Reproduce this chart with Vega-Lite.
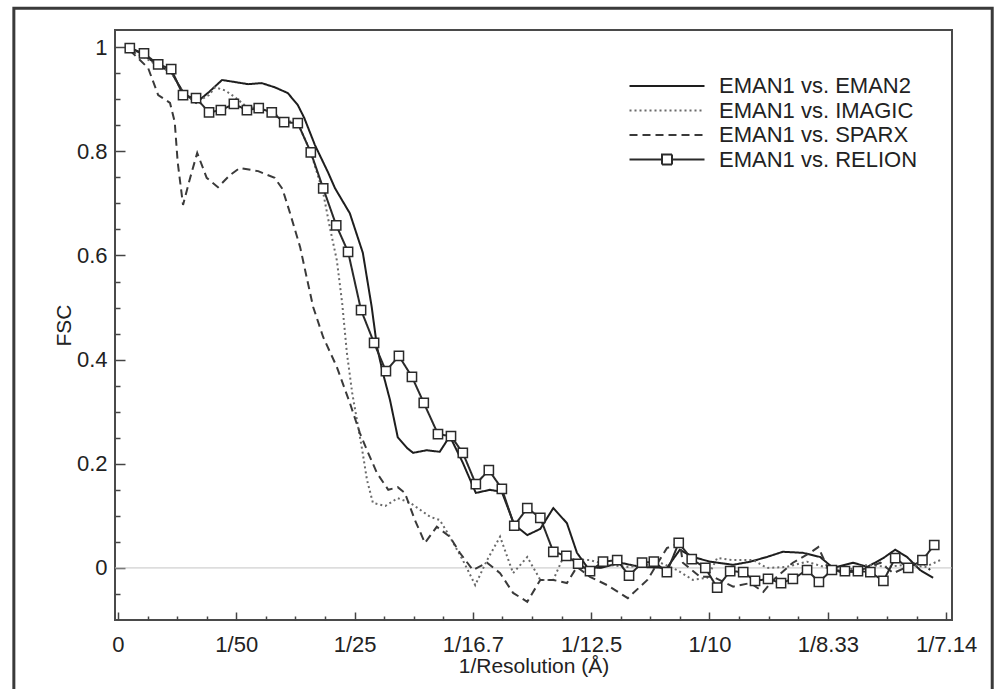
{
 "$schema": "https://vega.github.io/schema/vega-lite/v6.json",
 "width": 837,
 "height": 590,
 "autosize": {"type": "none"},
 "padding": {"left": 115, "top": 30, "right": 46, "bottom": 69},
 "background": "white",
 "config": {
  "view": {"stroke": "#4a4a4a", "strokeWidth": 2},
  "font": "Liberation Sans",
  "axis": {"grid": false, "domain": false, "tickColor": "#444", "tickWidth": 1.5, "labelFont": "Liberation Sans", "labelFontSize": 22, "labelColor": "#222", "titleFont": "Liberation Sans", "titleFontSize": 21, "titleFontWeight": "normal", "titleColor": "#222"},
  "legend": {"title": null, "orient": "none", "legendX": 541, "legendY": 45, "padding": 0, "symbolType": "M-7.5,0H7.5", "symbolSize": 100, "symbolStrokeWidth": 2, "labelFontSize": 22, "labelFont": "Liberation Sans", "labelColor": "#222", "labelOffset": 41, "labelLimit": 400, "rowPadding": 2.5}
 },
 "datasets": {
  "fsc": [
   {"s":"EMAN1 vs. EMAN2","x":0.002,"y":1.0},{"s":"EMAN1 vs. EMAN2","x":0.0044,"y":0.985},{"s":"EMAN1 vs. EMAN2","x":0.0068,"y":0.965},{"s":"EMAN1 vs. EMAN2","x":0.009,"y":0.952},{"s":"EMAN1 vs. EMAN2","x":0.011,"y":0.914},{"s":"EMAN1 vs. EMAN2","x":0.0132,"y":0.893},{"s":"EMAN1 vs. EMAN2","x":0.0154,"y":0.914},{"s":"EMAN1 vs. EMAN2","x":0.0176,"y":0.937},{"s":"EMAN1 vs. EMAN2","x":0.0198,"y":0.933},{"s":"EMAN1 vs. EMAN2","x":0.022,"y":0.929},{"s":"EMAN1 vs. EMAN2","x":0.0243,"y":0.931},{"s":"EMAN1 vs. EMAN2","x":0.0265,"y":0.923},{"s":"EMAN1 vs. EMAN2","x":0.0287,"y":0.912},{"s":"EMAN1 vs. EMAN2","x":0.0304,"y":0.889},{"s":"EMAN1 vs. EMAN2","x":0.0315,"y":0.864},{"s":"EMAN1 vs. EMAN2","x":0.0333,"y":0.812},{"s":"EMAN1 vs. EMAN2","x":0.0355,"y":0.76},{"s":"EMAN1 vs. EMAN2","x":0.0367,"y":0.729},{"s":"EMAN1 vs. EMAN2","x":0.0392,"y":0.681},{"s":"EMAN1 vs. EMAN2","x":0.0414,"y":0.605},{"s":"EMAN1 vs. EMAN2","x":0.0429,"y":0.501},{"s":"EMAN1 vs. EMAN2","x":0.0438,"y":0.424},{"s":"EMAN1 vs. EMAN2","x":0.0448,"y":0.374},{"s":"EMAN1 vs. EMAN2","x":0.046,"y":0.322},{"s":"EMAN1 vs. EMAN2","x":0.0473,"y":0.251},{"s":"EMAN1 vs. EMAN2","x":0.0489,"y":0.23},{"s":"EMAN1 vs. EMAN2","x":0.0499,"y":0.221},{"s":"EMAN1 vs. EMAN2","x":0.0522,"y":0.226},{"s":"EMAN1 vs. EMAN2","x":0.0544,"y":0.223},{"s":"EMAN1 vs. EMAN2","x":0.0561,"y":0.253},{"s":"EMAN1 vs. EMAN2","x":0.0583,"y":0.202},{"s":"EMAN1 vs. EMAN2","x":0.0605,"y":0.144},{"s":"EMAN1 vs. EMAN2","x":0.0629,"y":0.15},{"s":"EMAN1 vs. EMAN2","x":0.0649,"y":0.146},{"s":"EMAN1 vs. EMAN2","x":0.067,"y":0.083},{"s":"EMAN1 vs. EMAN2","x":0.0692,"y":0.063},{"s":"EMAN1 vs. EMAN2","x":0.0714,"y":0.075},{"s":"EMAN1 vs. EMAN2","x":0.0736,"y":0.115},{"s":"EMAN1 vs. EMAN2","x":0.0759,"y":0.086},{"s":"EMAN1 vs. EMAN2","x":0.0776,"y":0.029},{"s":"EMAN1 vs. EMAN2","x":0.0793,"y":0.002},{"s":"EMAN1 vs. EMAN2","x":0.0815,"y":0.0},{"s":"EMAN1 vs. EMAN2","x":0.0837,"y":0.006},{"s":"EMAN1 vs. EMAN2","x":0.0849,"y":0.01},{"s":"EMAN1 vs. EMAN2","x":0.0883,"y":0.002},{"s":"EMAN1 vs. EMAN2","x":0.0928,"y":0.0},{"s":"EMAN1 vs. EMAN2","x":0.095,"y":0.035},{"s":"EMAN1 vs. EMAN2","x":0.0972,"y":0.021},{"s":"EMAN1 vs. EMAN2","x":0.1001,"y":0.012},{"s":"EMAN1 vs. EMAN2","x":0.104,"y":0.006},{"s":"EMAN1 vs. EMAN2","x":0.1069,"y":0.012},{"s":"EMAN1 vs. EMAN2","x":0.1097,"y":0.021},{"s":"EMAN1 vs. EMAN2","x":0.1124,"y":0.031},{"s":"EMAN1 vs. EMAN2","x":0.1158,"y":0.029},{"s":"EMAN1 vs. EMAN2","x":0.1187,"y":0.021},{"s":"EMAN1 vs. EMAN2","x":0.1209,"y":0.0},{"s":"EMAN1 vs. EMAN2","x":0.1243,"y":0.01},{"s":"EMAN1 vs. EMAN2","x":0.1267,"y":0.002},{"s":"EMAN1 vs. EMAN2","x":0.1294,"y":0.019},{"s":"EMAN1 vs. EMAN2","x":0.1314,"y":0.035},{"s":"EMAN1 vs. EMAN2","x":0.1334,"y":0.021},{"s":"EMAN1 vs. EMAN2","x":0.1356,"y":-0.004},{"s":"EMAN1 vs. EMAN2","x":0.1378,"y":-0.019},
   {"s":"EMAN1 vs. IMAGIC","x":0.002,"y":0.994},{"s":"EMAN1 vs. IMAGIC","x":0.0044,"y":0.981},{"s":"EMAN1 vs. IMAGIC","x":0.0068,"y":0.964},{"s":"EMAN1 vs. IMAGIC","x":0.009,"y":0.952},{"s":"EMAN1 vs. IMAGIC","x":0.011,"y":0.912},{"s":"EMAN1 vs. IMAGIC","x":0.0132,"y":0.894},{"s":"EMAN1 vs. IMAGIC","x":0.0154,"y":0.908},{"s":"EMAN1 vs. IMAGIC","x":0.0164,"y":0.923},{"s":"EMAN1 vs. IMAGIC","x":0.0181,"y":0.917},{"s":"EMAN1 vs. IMAGIC","x":0.0198,"y":0.904},{"s":"EMAN1 vs. IMAGIC","x":0.0218,"y":0.885},{"s":"EMAN1 vs. IMAGIC","x":0.0238,"y":0.883},{"s":"EMAN1 vs. IMAGIC","x":0.026,"y":0.875},{"s":"EMAN1 vs. IMAGIC","x":0.0281,"y":0.86},{"s":"EMAN1 vs. IMAGIC","x":0.0304,"y":0.854},{"s":"EMAN1 vs. IMAGIC","x":0.0326,"y":0.798},{"s":"EMAN1 vs. IMAGIC","x":0.0347,"y":0.72},{"s":"EMAN1 vs. IMAGIC","x":0.0358,"y":0.655},{"s":"EMAN1 vs. IMAGIC","x":0.037,"y":0.591},{"s":"EMAN1 vs. IMAGIC","x":0.0379,"y":0.509},{"s":"EMAN1 vs. IMAGIC","x":0.0387,"y":0.413},{"s":"EMAN1 vs. IMAGIC","x":0.0396,"y":0.336},{"s":"EMAN1 vs. IMAGIC","x":0.0404,"y":0.284},{"s":"EMAN1 vs. IMAGIC","x":0.0413,"y":0.226},{"s":"EMAN1 vs. IMAGIC","x":0.0421,"y":0.169},{"s":"EMAN1 vs. IMAGIC","x":0.0431,"y":0.125},{"s":"EMAN1 vs. IMAGIC","x":0.0452,"y":0.119},{"s":"EMAN1 vs. IMAGIC","x":0.0473,"y":0.134},{"s":"EMAN1 vs. IMAGIC","x":0.0494,"y":0.125},{"s":"EMAN1 vs. IMAGIC","x":0.0528,"y":0.098},{"s":"EMAN1 vs. IMAGIC","x":0.0544,"y":0.092},{"s":"EMAN1 vs. IMAGIC","x":0.0561,"y":0.06},{"s":"EMAN1 vs. IMAGIC","x":0.0583,"y":0.015},{"s":"EMAN1 vs. IMAGIC","x":0.0604,"y":-0.033},{"s":"EMAN1 vs. IMAGIC","x":0.0624,"y":0.015},{"s":"EMAN1 vs. IMAGIC","x":0.0646,"y":0.06},{"s":"EMAN1 vs. IMAGIC","x":0.0668,"y":-0.01},{"s":"EMAN1 vs. IMAGIC","x":0.0692,"y":0.021},{"s":"EMAN1 vs. IMAGIC","x":0.0714,"y":-0.023},{"s":"EMAN1 vs. IMAGIC","x":0.0736,"y":-0.023},{"s":"EMAN1 vs. IMAGIC","x":0.0753,"y":0.021},{"s":"EMAN1 vs. IMAGIC","x":0.0776,"y":0.015},{"s":"EMAN1 vs. IMAGIC","x":0.0798,"y":0.015},{"s":"EMAN1 vs. IMAGIC","x":0.0827,"y":0.006},{"s":"EMAN1 vs. IMAGIC","x":0.0861,"y":0.002},{"s":"EMAN1 vs. IMAGIC","x":0.0895,"y":0.006},{"s":"EMAN1 vs. IMAGIC","x":0.0917,"y":0.01},{"s":"EMAN1 vs. IMAGIC","x":0.0945,"y":-0.004},{"s":"EMAN1 vs. IMAGIC","x":0.0972,"y":-0.023},{"s":"EMAN1 vs. IMAGIC","x":0.0996,"y":-0.019},{"s":"EMAN1 vs. IMAGIC","x":0.1013,"y":0.019},{"s":"EMAN1 vs. IMAGIC","x":0.104,"y":0.015},{"s":"EMAN1 vs. IMAGIC","x":0.1074,"y":0.015},{"s":"EMAN1 vs. IMAGIC","x":0.1097,"y":0.0},{"s":"EMAN1 vs. IMAGIC","x":0.1131,"y":0.002},{"s":"EMAN1 vs. IMAGIC","x":0.1165,"y":0.012},{"s":"EMAN1 vs. IMAGIC","x":0.1199,"y":0.0},{"s":"EMAN1 vs. IMAGIC","x":0.1233,"y":-0.004},{"s":"EMAN1 vs. IMAGIC","x":0.1267,"y":0.006},{"s":"EMAN1 vs. IMAGIC","x":0.13,"y":0.002},{"s":"EMAN1 vs. IMAGIC","x":0.1334,"y":0.006},{"s":"EMAN1 vs. IMAGIC","x":0.1365,"y":0.002},{"s":"EMAN1 vs. IMAGIC","x":0.139,"y":0.015},
   {"s":"EMAN1 vs. SPARX","x":0.002,"y":0.994},{"s":"EMAN1 vs. SPARX","x":0.0051,"y":0.96},{"s":"EMAN1 vs. SPARX","x":0.0068,"y":0.908},{"s":"EMAN1 vs. SPARX","x":0.0088,"y":0.893},{"s":"EMAN1 vs. SPARX","x":0.0096,"y":0.856},{"s":"EMAN1 vs. SPARX","x":0.0101,"y":0.779},{"s":"EMAN1 vs. SPARX","x":0.011,"y":0.697},{"s":"EMAN1 vs. SPARX","x":0.0122,"y":0.749},{"s":"EMAN1 vs. SPARX","x":0.0134,"y":0.797},{"s":"EMAN1 vs. SPARX","x":0.015,"y":0.749},{"s":"EMAN1 vs. SPARX","x":0.0169,"y":0.731},{"s":"EMAN1 vs. SPARX","x":0.0189,"y":0.754},{"s":"EMAN1 vs. SPARX","x":0.0206,"y":0.768},{"s":"EMAN1 vs. SPARX","x":0.0237,"y":0.762},{"s":"EMAN1 vs. SPARX","x":0.0265,"y":0.749},{"s":"EMAN1 vs. SPARX","x":0.0278,"y":0.728},{"s":"EMAN1 vs. SPARX","x":0.0291,"y":0.681},{"s":"EMAN1 vs. SPARX","x":0.0308,"y":0.616},{"s":"EMAN1 vs. SPARX","x":0.032,"y":0.553},{"s":"EMAN1 vs. SPARX","x":0.033,"y":0.501},{"s":"EMAN1 vs. SPARX","x":0.0347,"y":0.443},{"s":"EMAN1 vs. SPARX","x":0.037,"y":0.386},{"s":"EMAN1 vs. SPARX","x":0.0392,"y":0.317},{"s":"EMAN1 vs. SPARX","x":0.0409,"y":0.259},{"s":"EMAN1 vs. SPARX","x":0.0421,"y":0.226},{"s":"EMAN1 vs. SPARX","x":0.0438,"y":0.182},{"s":"EMAN1 vs. SPARX","x":0.0457,"y":0.15},{"s":"EMAN1 vs. SPARX","x":0.0473,"y":0.155},{"s":"EMAN1 vs. SPARX","x":0.0485,"y":0.144},{"s":"EMAN1 vs. SPARX","x":0.0502,"y":0.092},{"s":"EMAN1 vs. SPARX","x":0.0519,"y":0.048},{"s":"EMAN1 vs. SPARX","x":0.0539,"y":0.079},{"s":"EMAN1 vs. SPARX","x":0.0561,"y":0.06},{"s":"EMAN1 vs. SPARX","x":0.0578,"y":0.029},{"s":"EMAN1 vs. SPARX","x":0.06,"y":-0.004},{"s":"EMAN1 vs. SPARX","x":0.0624,"y":0.01},{"s":"EMAN1 vs. SPARX","x":0.0646,"y":-0.01},{"s":"EMAN1 vs. SPARX","x":0.0668,"y":-0.048},{"s":"EMAN1 vs. SPARX","x":0.0692,"y":-0.065},{"s":"EMAN1 vs. SPARX","x":0.0714,"y":-0.023},{"s":"EMAN1 vs. SPARX","x":0.0736,"y":-0.023},{"s":"EMAN1 vs. SPARX","x":0.0759,"y":-0.029},{"s":"EMAN1 vs. SPARX","x":0.0776,"y":0.002},{"s":"EMAN1 vs. SPARX","x":0.0798,"y":-0.017},{"s":"EMAN1 vs. SPARX","x":0.0827,"y":-0.033},{"s":"EMAN1 vs. SPARX","x":0.0862,"y":-0.058},{"s":"EMAN1 vs. SPARX","x":0.0895,"y":-0.023},{"s":"EMAN1 vs. SPARX","x":0.0928,"y":0.038},{"s":"EMAN1 vs. SPARX","x":0.095,"y":0.048},{"s":"EMAN1 vs. SPARX","x":0.0955,"y":0.01},{"s":"EMAN1 vs. SPARX","x":0.0984,"y":-0.017},{"s":"EMAN1 vs. SPARX","x":0.1006,"y":-0.017},{"s":"EMAN1 vs. SPARX","x":0.104,"y":-0.036},{"s":"EMAN1 vs. SPARX","x":0.1069,"y":-0.029},{"s":"EMAN1 vs. SPARX","x":0.1091,"y":-0.046},{"s":"EMAN1 vs. SPARX","x":0.1108,"y":-0.023},{"s":"EMAN1 vs. SPARX","x":0.1141,"y":0.01},{"s":"EMAN1 vs. SPARX","x":0.117,"y":0.029},{"s":"EMAN1 vs. SPARX","x":0.1184,"y":0.04},{"s":"EMAN1 vs. SPARX","x":0.1199,"y":0.002},{"s":"EMAN1 vs. SPARX","x":0.1221,"y":-0.008},{"s":"EMAN1 vs. SPARX","x":0.1243,"y":-0.008},{"s":"EMAN1 vs. SPARX","x":0.1267,"y":0.0},{"s":"EMAN1 vs. SPARX","x":0.1289,"y":0.01},{"s":"EMAN1 vs. SPARX","x":0.1311,"y":-0.01},{"s":"EMAN1 vs. SPARX","x":0.1334,"y":0.002},{"s":"EMAN1 vs. SPARX","x":0.1356,"y":0.015},{"s":"EMAN1 vs. SPARX","x":0.1373,"y":-0.004},
   {"s":"EMAN1 vs. RELION","x":0.002,"y":0.998},{"s":"EMAN1 vs. RELION","x":0.0044,"y":0.988},{"s":"EMAN1 vs. RELION","x":0.0068,"y":0.967},{"s":"EMAN1 vs. RELION","x":0.009,"y":0.958},{"s":"EMAN1 vs. RELION","x":0.011,"y":0.908},{"s":"EMAN1 vs. RELION","x":0.0132,"y":0.902},{"s":"EMAN1 vs. RELION","x":0.0154,"y":0.875},{"s":"EMAN1 vs. RELION","x":0.0174,"y":0.879},{"s":"EMAN1 vs. RELION","x":0.0196,"y":0.891},{"s":"EMAN1 vs. RELION","x":0.0218,"y":0.879},{"s":"EMAN1 vs. RELION","x":0.0238,"y":0.883},{"s":"EMAN1 vs. RELION","x":0.026,"y":0.875},{"s":"EMAN1 vs. RELION","x":0.0281,"y":0.856},{"s":"EMAN1 vs. RELION","x":0.0304,"y":0.854},{"s":"EMAN1 vs. RELION","x":0.0326,"y":0.798},{"s":"EMAN1 vs. RELION","x":0.0347,"y":0.729},{"s":"EMAN1 vs. RELION","x":0.0369,"y":0.658},{"s":"EMAN1 vs. RELION","x":0.0389,"y":0.607},{"s":"EMAN1 vs. RELION","x":0.0411,"y":0.495},{"s":"EMAN1 vs. RELION","x":0.0433,"y":0.432},{"s":"EMAN1 vs. RELION","x":0.0453,"y":0.378},{"s":"EMAN1 vs. RELION","x":0.0475,"y":0.407},{"s":"EMAN1 vs. RELION","x":0.0497,"y":0.367},{"s":"EMAN1 vs. RELION","x":0.0517,"y":0.317},{"s":"EMAN1 vs. RELION","x":0.0541,"y":0.257},{"s":"EMAN1 vs. RELION","x":0.0563,"y":0.253},{"s":"EMAN1 vs. RELION","x":0.0583,"y":0.221},{"s":"EMAN1 vs. RELION","x":0.0605,"y":0.161},{"s":"EMAN1 vs. RELION","x":0.0627,"y":0.188},{"s":"EMAN1 vs. RELION","x":0.0649,"y":0.152},{"s":"EMAN1 vs. RELION","x":0.067,"y":0.081},{"s":"EMAN1 vs. RELION","x":0.0692,"y":0.115},{"s":"EMAN1 vs. RELION","x":0.0714,"y":0.096},{"s":"EMAN1 vs. RELION","x":0.0736,"y":0.031},{"s":"EMAN1 vs. RELION","x":0.0758,"y":0.023},{"s":"EMAN1 vs. RELION","x":0.0778,"y":0.008},{"s":"EMAN1 vs. RELION","x":0.0798,"y":-0.006},{"s":"EMAN1 vs. RELION","x":0.082,"y":0.012},{"s":"EMAN1 vs. RELION","x":0.0844,"y":0.015},{"s":"EMAN1 vs. RELION","x":0.0864,"y":-0.015},{"s":"EMAN1 vs. RELION","x":0.0886,"y":0.01},{"s":"EMAN1 vs. RELION","x":0.0906,"y":0.012},{"s":"EMAN1 vs. RELION","x":0.0928,"y":-0.008},{"s":"EMAN1 vs. RELION","x":0.0948,"y":0.048},{"s":"EMAN1 vs. RELION","x":0.097,"y":0.017},{"s":"EMAN1 vs. RELION","x":0.0993,"y":0.0},{"s":"EMAN1 vs. RELION","x":0.1013,"y":-0.038},{"s":"EMAN1 vs. RELION","x":0.1035,"y":-0.006},{"s":"EMAN1 vs. RELION","x":0.1057,"y":-0.008},{"s":"EMAN1 vs. RELION","x":0.1077,"y":-0.025},{"s":"EMAN1 vs. RELION","x":0.1099,"y":-0.021},{"s":"EMAN1 vs. RELION","x":0.1121,"y":-0.029},{"s":"EMAN1 vs. RELION","x":0.1141,"y":-0.021},{"s":"EMAN1 vs. RELION","x":0.1165,"y":-0.004},{"s":"EMAN1 vs. RELION","x":0.1185,"y":-0.027},{"s":"EMAN1 vs. RELION","x":0.1207,"y":-0.004},{"s":"EMAN1 vs. RELION","x":0.1229,"y":-0.006},{"s":"EMAN1 vs. RELION","x":0.1251,"y":-0.006},{"s":"EMAN1 vs. RELION","x":0.1272,"y":-0.008},{"s":"EMAN1 vs. RELION","x":0.1294,"y":-0.025},{"s":"EMAN1 vs. RELION","x":0.1314,"y":0.019},{"s":"EMAN1 vs. RELION","x":0.1336,"y":0.0},{"s":"EMAN1 vs. RELION","x":0.136,"y":0.015},{"s":"EMAN1 vs. RELION","x":0.138,"y":0.044}
  ]
 },
 "resolve": {"axis": {"x": "independent", "y": "independent"}},
 "layer": [
  {
   "data": {"values": [{}]},
   "mark": {"type": "rect", "fillOpacity": 0, "stroke": "#3a3a3a", "strokeWidth": 3, "clip": false},
   "encoding": {
    "x": {"datum": -0.0176, "type": "quantitative", "scale": {"domain": [-0.0005, 0.141], "nice": false, "zero": false},
     "axis": {"orient": "bottom", "values": [0.005,0.01,0.015,0.025,0.03,0.035,0.045,0.05,0.055,0.065,0.07,0.075,0.085,0.09,0.095,0.105,0.11,0.115,0.125,0.13,0.135], "tickSize": -4, "labels": false, "title": null, "domain": false, "grid": false}},
    "x2": {"datum": 0.1478},
    "y": {"datum": 1.0749, "type": "quantitative", "scale": {"domain": [-0.1, 1.033], "nice": false, "zero": false},
     "axis": {"orient": "left", "values": [-0.05,0.05,0.1,0.15,0.25,0.3,0.35,0.45,0.5,0.55,0.65,0.7,0.75,0.85,0.9,0.95], "tickSize": -5, "labels": false, "title": null, "domain": false, "grid": false}},
    "y2": {"datum": -0.27}
   }
  },
  {
   "data": {"values": [{}]},
   "mark": {"type": "rule", "color": "#c4c4c4", "strokeWidth": 1},
   "encoding": {
    "y": {"datum": 0, "type": "quantitative", "scale": {"domain": [-0.1, 1.033], "nice": false, "zero": false}, "axis": null}
   }
  },
  {
   "data": {"name": "fsc"},
   "mark": {"type": "line", "strokeWidth": 2},
   "encoding": {
    "x": {"field": "x", "type": "quantitative", "scale": {"domain": [-0.0005, 0.141], "nice": false, "zero": false},
     "axis": {"orient": "bottom", "values": [0,0.02,0.04,0.06,0.08,0.1,0.12,0.14], "labelExpr": "['0','1/50','1/25','1/16.7','1/12.5','1/10','1/8.33','1/7.14'][round(datum.value*50)]", "tickSize": -8, "labelPadding": 22, "labelFlush": false, "labelOverlap": false, "title": "1/Resolution (Å)", "titlePadding": 0}},
    "y": {"field": "y", "type": "quantitative", "scale": {"domain": [-0.1, 1.033], "nice": false, "zero": false},
     "axis": {"orient": "left", "values": [0,0.2,0.4,0.6,0.8,1], "format": "~g", "tickSize": -10, "labelPadding": 18, "labelFlush": false, "labelOverlap": false, "title": "FSC", "titlePadding": 2}},
    "strokeDash": {"field": "s", "type": "nominal",
     "scale": {"domain": ["EMAN1 vs. EMAN2", "EMAN1 vs. IMAGIC", "EMAN1 vs. SPARX", "EMAN1 vs. RELION"], "range": [[1,0],[2,3],[8,5],[1,0]]},
     "legend": {"encode": {"symbols": {"update": {"shape": {"signal": "datum.value === 'EMAN1 vs. RELION' ? 'M-7.5,0H-1M1,0H7.5M-1,-1H1V1H-1Z' : 'M-7.5,0H7.5'"}}}}}},
    "color": {"field": "s", "type": "nominal",
     "scale": {"domain": ["EMAN1 vs. EMAN2", "EMAN1 vs. IMAGIC", "EMAN1 vs. SPARX", "EMAN1 vs. RELION"], "range": ["#1e1e1e", "#6a6a6a", "#3a3a3a", "#2a2a2a"]},
     "legend": {"encode": {"symbols": {"update": {"shape": {"signal": "datum.value === 'EMAN1 vs. RELION' ? 'M-7.5,0H-1M1,0H7.5M-1,-1H1V1H-1Z' : 'M-7.5,0H7.5'"}}}}}}
   }
  },
  {
   "data": {"name": "fsc"},
   "transform": [{"filter": "datum.s === 'EMAN1 vs. RELION'"}],
   "mark": {"type": "point", "shape": "square", "size": 85, "filled": true, "fill": "white", "stroke": "#2a2a2a", "strokeWidth": 1.5, "opacity": 1},
   "encoding": {
    "x": {"field": "x", "type": "quantitative", "scale": {"domain": [-0.0005, 0.141], "nice": false, "zero": false}, "axis": null},
    "y": {"field": "y", "type": "quantitative", "scale": {"domain": [-0.1, 1.033], "nice": false, "zero": false}, "axis": null}
   }
  }
 ]
}
